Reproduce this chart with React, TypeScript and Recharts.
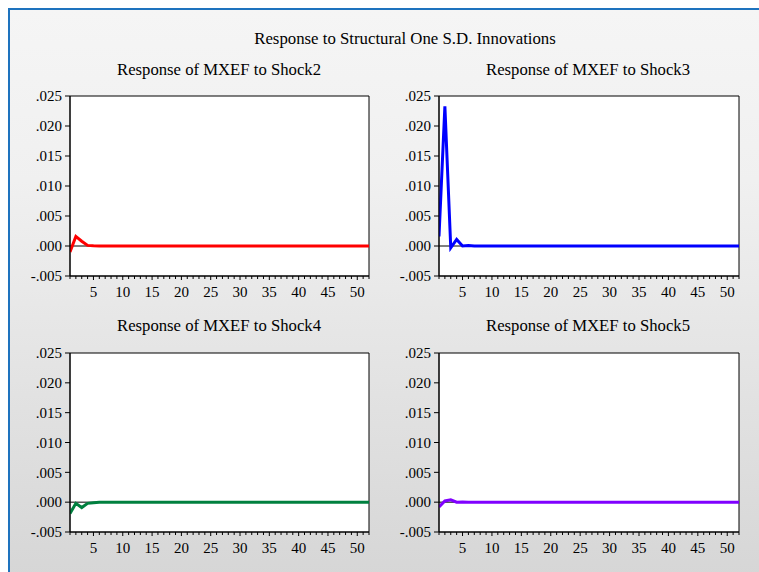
import React from "react";
import { LineChart, Line, XAxis, YAxis, CartesianGrid, ReferenceLine, ReferenceArea } from "recharts";

const periods = [1, 2, 3, 4, 5, 6, 7, 8, 9, 10, 11, 12, 13, 14, 15, 16, 17, 18, 19, 20, 21, 22, 23, 24, 25, 26, 27, 28, 29, 30, 31, 32, 33, 34, 35, 36, 37, 38, 39, 40, 41, 42, 43, 44, 45, 46, 47, 48, 49, 50, 51, 52];
const yTicks = [-0.005, 0, 0.005, 0.01, 0.015, 0.02, 0.025];

const shock2 = [-0.001, 0.0016, 0.0008, 0.0001, 0.00003, 0.00001, 0, 0, 0, 0, 0, 0, 0, 0, 0, 0, 0, 0, 0, 0, 0, 0, 0, 0, 0, 0, 0, 0, 0, 0, 0, 0, 0, 0, 0, 0, 0, 0, 0, 0, 0, 0, 0, 0, 0, 0, 0, 0, 0, 0, 0, 0];
const shock3 = [0.0016, 0.0233, -0.0003, 0.0011, 0.0000, 0.0001, 0.00002, 0, 0, 0, 0, 0, 0, 0, 0, 0, 0, 0, 0, 0, 0, 0, 0, 0, 0, 0, 0, 0, 0, 0, 0, 0, 0, 0, 0, 0, 0, 0, 0, 0, 0, 0, 0, 0, 0, 0, 0, 0, 0, 0, 0, 0];
const shock4 = [-0.0019, -0.0002, -0.0009, -0.0002, -0.0001, -0.00003, 0, 0, 0, 0, 0, 0, 0, 0, 0, 0, 0, 0, 0, 0, 0, 0, 0, 0, 0, 0, 0, 0, 0, 0, 0, 0, 0, 0, 0, 0, 0, 0, 0, 0, 0, 0, 0, 0, 0, 0, 0, 0, 0, 0, 0, 0];
const shock5 = [-0.0008, 0.0002, 0.0004, 0.0000, 0.00002, 0, 0, 0, 0, 0, 0, 0, 0, 0, 0, 0, 0, 0, 0, 0, 0, 0, 0, 0, 0, 0, 0, 0, 0, 0, 0, 0, 0, 0, 0, 0, 0, 0, 0, 0, 0, 0, 0, 0, 0, 0, 0, 0, 0, 0, 0, 0];

const mainTitle = "Response to Structural One S.D. Innovations";
const titles = ["Response of MXEF to Shock2", "Response of MXEF to Shock3", "Response of MXEF to Shock4", "Response of MXEF to Shock5"];

const FONT = "'Liberation Serif', 'Times New Roman', serif";

const fmtY = (v: number) => {
  const s = Math.abs(v).toFixed(3).replace(/^0/, "");
  return (v < -1e-9 ? "-" : "") + s;
};

const XTick = (props: any) => {
  const { x, y, payload } = props;
  const v = payload.value;
  const major = v % 5 === 0;
  return (
    <g>
      <line x1={x} x2={x} y1={y} y2={y + (major ? 4 : 3)} stroke="#000" strokeWidth={1} />
      {major ? (
        <text x={x} y={y + 21} textAnchor="middle" fill="#000" fontSize={15} style={{ fontFamily: FONT }}>
          {v}
        </text>
      ) : null}
    </g>
  );
};

const YTick = (props: any) => {
  const { x, y, payload } = props;
  return (
    <text x={x} y={y} dy="0.355em" textAnchor="end" fill="#000" fontSize={15} style={{ fontFamily: FONT }}>
      {fmtY(payload.value)}
    </text>
  );
};

type PanelProps = {
  left: number;
  top: number;
  width: number;
  height: number;
  margin: { top: number; right: number; left: number; bottom: number };
  yWidth: number;
  xHeight: number;
  values: number[];
  color: string;
};

const Panel = ({ left, top, width, height, margin, yWidth, xHeight, values, color }: PanelProps) => {
  const data = periods.map((p, i) => ({ period: p, value: values[i] }));
  return (
    <div style={{ position: "absolute", left, top, fontFamily: FONT }}>
      <LineChart width={width} height={height} data={data} margin={margin}>
        <CartesianGrid horizontal={false} vertical={false} fill="#ffffff" />
        <XAxis
          dataKey="period"
          type="number"
          domain={[1, 52]}
          ticks={periods}
          interval={0}
          tickSize={0}
          tickMargin={0}
          height={xHeight}
          tick={<XTick />}
          axisLine={{ stroke: "#000" }}
          allowDataOverflow
        />
        <YAxis
          type="number"
          domain={[-0.005, 0.025]}
          ticks={yTicks}
          interval={0}
          width={yWidth}
          tickSize={5}
          tickMargin={3}
          tick={<YTick />}
          tickLine={{ stroke: "#000" }}
          axisLine={{ stroke: "#000" }}
          allowDataOverflow
        />
        <ReferenceLine y={0} stroke="#000" strokeWidth={1} />
        <Line
          type="linear"
          dataKey="value"
          stroke={color}
          strokeWidth={3}
          dot={false}
          isAnimationActive={false}
        />
        <ReferenceArea x1={1} x2={52} y1={-0.005} y2={0.025} fill="none" stroke="#000" strokeWidth={1} ifOverflow="visible" />
      </LineChart>
    </div>
  );
};

const Title = ({ text, cx, cy, size }: { text: string; cx: number; cy: number; size: number }) => (
  <div
    style={{
      position: "absolute",
      left: cx - 250,
      top: cy - size * 0.6,
      width: 500,
      textAlign: "center",
      fontFamily: FONT,
      fontSize: size,
      lineHeight: `${size * 1.2}px`,
      color: "#000",
      whiteSpace: "nowrap",
    }}
  >
    {text}
  </div>
);

export default function App() {
  return (
    <div style={{ position: "fixed", left: 0, top: 0, width: 759, height: 572, overflow: "hidden", background: "#ffffff" }}>
      <div
        style={{
          position: "absolute",
          left: 8,
          top: 8,
          width: 760,
          height: 570,
          boxSizing: "border-box",
          borderTop: "2px solid #1e73be",
          borderLeft: "2px solid #1e73be",
          background: "linear-gradient(#f5f5f5, #f0f0f0 30%, #d6d6d6)",
        }}
      />
      <Title text={mainTitle} cx={405} cy={39} size={16.8} />
      <Title text={titles[0]} cx={219} cy={70} size={16.7} />
      <Title text={titles[1]} cx={588} cy={70} size={16.7} />
      <Title text={titles[2]} cx={219} cy={326} size={16.7} />
      <Title text={titles[3]} cx={588} cy={326} size={16.7} />
      <Panel left={0} top={80} width={380} height={220} margin={{ top: 16, right: 11, left: 0, bottom: 0 }} yWidth={70} xHeight={24} values={shock2} color="#ff0000" />
      <Panel left={380} top={80} width={380} height={220} margin={{ top: 16, right: 21, left: 0, bottom: 0 }} yWidth={59} xHeight={24} values={shock3} color="#0000ff" />
      <Panel left={0} top={330} width={380} height={230} margin={{ top: 23, right: 11, left: 0, bottom: 0 }} yWidth={70} xHeight={28} values={shock4} color="#00803f" />
      <Panel left={380} top={330} width={380} height={230} margin={{ top: 23, right: 21, left: 0, bottom: 0 }} yWidth={59} xHeight={28} values={shock5} color="#8000ff" />
    </div>
  );
}
